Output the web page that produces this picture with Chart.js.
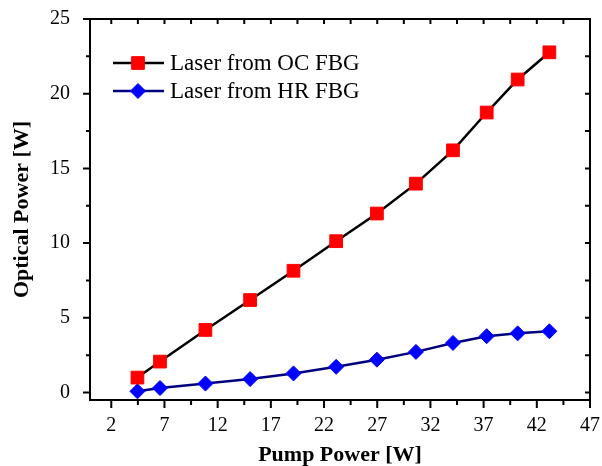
<!DOCTYPE html>
<html>
<head>
<meta charset="utf-8">
<script src="https://cdn.jsdelivr.net/npm/chart.js@4/dist/chart.umd.min.js"></script>
<style>
  html, body { margin: 0; padding: 0; background: #fff; }
  #wrap { width: 602px; height: 466px; }
</style>
</head>
<body>
<div id="wrap"><canvas id="ch"></canvas></div>
<script>
// Pump power vs optical output for the two FBG ports
const PUMP = [4.46, 6.58, 10.85, 15.05, 19.13, 23.14, 26.97, 30.64, 34.12, 37.29, 40.2, 43.18];
const OC_FBG = [1.0, 2.07, 4.19, 6.19, 8.15, 10.13, 11.98, 13.98, 16.21, 18.74, 20.95, 22.77];
const HR_FBG = [0.08, 0.3, 0.6, 0.9, 1.28, 1.72, 2.2, 2.72, 3.32, 3.77, 3.96, 4.1];
const SERIES_NAMES = ["Laser from OC FBG", "Laser from HR FBG"];
const X_TICKS = [2, 7, 12, 17, 22, 27, 32, 37, 42, 47];
const X_MINOR = [4.5, 9.5, 14.5, 19.5, 24.5, 29.5, 34.5, 39.5, 44.5];
const Y_TICKS = [0, 5, 10, 15, 20, 25];
const Y_MINOR = [2.5, 7.5, 12.5, 17.5, 22.5];

const SERIF = "'Liberation Serif', 'Times New Roman', serif";

function pts(xs, ys) { return xs.map((x, i) => ({ x: x, y: ys[i] })); }

// frame, tick marks and the in-plot legend
const decor = {
  id: "decor",
  afterDraw(chart) {
    const ctx = chart.ctx;
    const a = chart.chartArea;
    const xs = chart.scales.x, ys = chart.scales.y;
    ctx.save();
    ctx.strokeStyle = "#000";
    ctx.lineWidth = 2;
    ctx.beginPath();
    ctx.moveTo(a.left, a.top); ctx.lineTo(a.right, a.top); ctx.lineTo(a.right, a.bottom);
    const tick = (x1, y1, x2, y2) => { ctx.moveTo(x1, y1); ctx.lineTo(x2, y2); };
    X_TICKS.forEach((v) => {
      const p = xs.getPixelForValue(v);
      tick(p, a.bottom, p, a.bottom + 8);
      tick(p, a.top, p, a.top + 5);
    });
    X_MINOR.forEach((v) => {
      const p = xs.getPixelForValue(v);
      tick(p, a.bottom, p, a.bottom + 5);
      tick(p, a.top, p, a.top + 5);
    });
    Y_TICKS.forEach((v) => {
      const p = ys.getPixelForValue(v);
      tick(a.left, p, a.left - 7, p);
      tick(a.right, p, a.right - 5, p);
    });
    Y_MINOR.forEach((v) => {
      const p = ys.getPixelForValue(v);
      tick(a.left, p, a.left - 4, p);
      tick(a.right, p, a.right - 5, p);
    });
    ctx.stroke();

    // legend
    const rows = [63, 91];
    chart.data.datasets.forEach((ds, i) => {
      const y = rows[i];
      ctx.strokeStyle = ds.borderColor;
      ctx.lineWidth = ds.borderWidth;
      ctx.beginPath(); ctx.moveTo(113, y); ctx.lineTo(164, y); ctx.stroke();
      ctx.fillStyle = ds.pointBackgroundColor;
      ctx.strokeStyle = ds.pointBorderColor;
      ctx.lineWidth = 1;
      Chart.helpers.drawPoint(ctx, { pointStyle: ds.pointStyle, radius: ds.pointRadius, rotation: 0, borderWidth: 1 }, 138, y);
      ctx.fillStyle = "#000";
      ctx.font = "23px " + SERIF;
      ctx.textBaseline = "middle";
      ctx.textAlign = "left";
      ctx.fillText(ds.label, 170, y + 1);
    });
    ctx.restore();
  }
};

new Chart(document.getElementById("ch"), {
  type: "line",
  data: {
    datasets: [
      {
        label: SERIES_NAMES[0], data: pts(PUMP, OC_FBG),
        borderColor: "#000000", borderWidth: 2.5,
        pointStyle: "rect", pointRadius: 9, pointHoverRadius: 9,
        pointBackgroundColor: "#ff0000", pointBorderColor: "#ff0000", pointBorderWidth: 1
      },
      {
        label: SERIES_NAMES[1], data: pts(PUMP, HR_FBG),
        borderColor: "#00007f", borderWidth: 2.5,
        pointStyle: "rectRot", pointRadius: 7.5, pointHoverRadius: 7.5,
        pointBackgroundColor: "#0000ff", pointBorderColor: "#0000ff", pointBorderWidth: 1
      }
    ]
  },
  options: {
    responsive: true, maintainAspectRatio: false, animation: false,
    layout: { padding: { left: 0, right: 12, top: 19, bottom: 0 } },
    plugins: { legend: { display: false }, tooltip: { enabled: false } },
    scales: {
      x: {
        type: "linear", min: 0, max: 47,
        afterBuildTicks: (s) => { s.ticks = X_TICKS.map((v) => ({ value: v })); },
        afterFit: (s) => { s.height = 66; s.paddingLeft = 0; s.paddingRight = 0; },
        grid: { display: false, drawTicks: false },
        border: { display: true, color: "#000", width: 2 },
        ticks: { color: "#000", font: { family: SERIF, size: 20 }, padding: 14, maxRotation: 0, autoSkip: false },
        title: { display: true, text: "Pump Power [W]", color: "#000",
          font: { family: SERIF, size: 22, weight: "bold", lineHeight: 1 }, padding: { top: 0, bottom: 0 } }
      },
      y: {
        min: -0.5, max: 25,
        afterBuildTicks: (s) => { s.ticks = Y_TICKS.map((v) => ({ value: v })); },
        afterFit: (s) => { s.width = 90; s.paddingTop = 0; s.paddingBottom = 0; },
        grid: { display: false, drawTicks: false },
        border: { display: true, color: "#000", width: 2 },
        ticks: { color: "#000", font: { family: SERIF, size: 20 }, padding: 20, autoSkip: false },
        title: { display: true, text: "Optical Power [W]", color: "#000",
          font: { family: SERIF, size: 22, weight: "bold", lineHeight: 1 }, padding: { top: 11, bottom: 0 } }
      }
    }
  },
  plugins: [decor]
});
</script>
</body>
</html>
